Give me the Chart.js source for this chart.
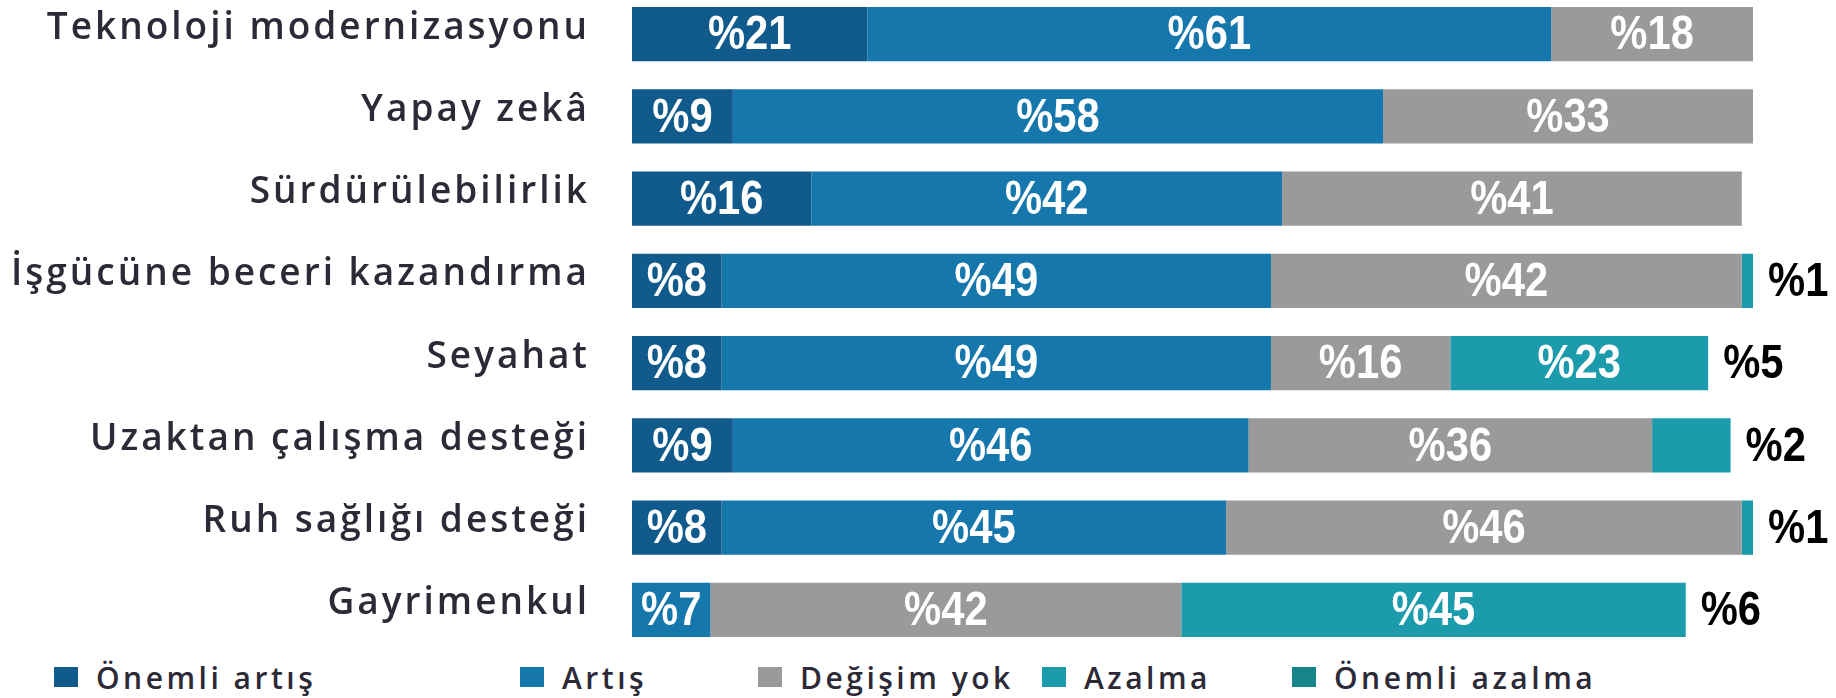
<!DOCTYPE html>
<html lang="tr">
<head>
<meta charset="utf-8">
<title>Yatırım beklentileri</title>
<script src="https://cdn.jsdelivr.net/npm/chart.js@4"></script>
<style>
    body { margin: 0; background: #fff; overflow: hidden; width: 1836px; height: 698px; }
    #kutu { position: absolute; left: 0; top: -7px; width: 1836px; height: 658px; }
    #lejant { position: absolute; left: 0; top: 660px; width: 1836px; height: 34px; }
    .oge { position: absolute; top: 0; display: flex; align-items: center; height: 34px;
           font-family: "Open Sans", sans-serif; font-weight: 600; font-size: 30px;
           letter-spacing: 3.5px; color: #2d2a38; white-space: nowrap; }
    .kare { width: 24px; height: 20px; margin-right: 18px; }
</style>
</head>
<body>
<div id="kutu"><canvas id="grafik"></canvas></div>
<div id="lejant"></div>

<script>
// Kategoriler
const kategoriler = [
    "Teknoloji modernizasyonu",
    "Yapay zekâ",
    "Sürdürülebilirlik",
    "İşgücüne beceri kazandırma",
    "Seyahat",
    "Uzaktan çalışma desteği",
    "Ruh sağlığı desteği",
    "Gayrimenkul"
];

// Seri değerleri (%)
const onemliArtis  = [21, 9, 16, 8, 8, 9, 8, 0];
const artis        = [61, 58, 42, 49, 49, 46, 45, 7];
const degisimYok   = [18, 33, 41, 42, 16, 36, 46, 42];
const azalma       = [0, 0, 0, 1, 23, 7, 1, 45];
const onemliAzalma = [0, 0, 0, 0, 5, 2, 0, 6];

const seriAdlari = ["Önemli artış", "Artış", "Değişim yok", "Azalma", "Önemli azalma"];
const renkler = ["#115a8c", "#1677ad", "#9a9a9b", "#1c9bac", "#16848b"];

// resimde etiketi olmayan dilim: [seri, satır]
const gizliEtiketler = [[3, 5]];

// lejant yerleşimi (px)
const lejantX = [54, 520, 758, 1042, 1292];

const degerler = [onemliArtis, artis, degisimYok, azalma, onemliAzalma];

const etiketPlugin = {
    id: "etiketler",
    beforeDraw(chart) {
        // eksen yazıları resimde geniş aralıklı
        chart.ctx.letterSpacing = "3px";
    },
    beforeDatasetsDraw(chart) {
        chart.ctx.letterSpacing = "0px";
    },
    afterDatasetsDraw(chart) {
        const ctx = chart.ctx;
        ctx.save();
        ctx.letterSpacing = "0px";
        ctx.font = 'bold 48px "Liberation Sans", Arial, sans-serif';
        ctx.textBaseline = "middle";
        chart.data.datasets.forEach((ds, i) => {
            const meta = chart.getDatasetMeta(i);
            meta.data.forEach((bar, j) => {
                const v = ds.data[j];
                if (!v) return;
                if (gizliEtiketler.some(g => g[0] === i && g[1] === j)) return;
                const yazi = "%" + v;
                let x;
                ctx.save();
                if (i === 4 || v < 3) {
                    // dar dilimler çubuğun dışında
                    ctx.fillStyle = "#000";
                    ctx.textAlign = "left";
                    x = (i === 4 ? bar.base : bar.x) + 15;
                } else {
                    ctx.fillStyle = "#fff";
                    ctx.textAlign = "center";
                    x = (bar.base + bar.x) / 2;
                }
                // dar (narrow) yazı görünümü
                ctx.translate(x, bar.y + 2);
                ctx.scale(0.87, 1);
                ctx.fillText(yazi, 0, 0);
                ctx.restore();
            });
        });
        ctx.restore();
    }
};

const grafikVerisi = {
    labels: kategoriler,
    datasets: seriAdlari.map((ad, i) => ({
        label: ad,
        data: degerler[i],
        // önemli azalma dilimi resimde görünmüyor, sadece etiketi var
        backgroundColor: i === 4 ? "rgba(0,0,0,0)" : renkler[i],
        borderWidth: 0,
        categoryPercentage: 1,
        barPercentage: 0.66
    }))
};

const ctx = document.getElementById("grafik").getContext("2d");
new Chart(ctx, {
    type: "bar",
    data: grafikVerisi,
    plugins: [etiketPlugin],
    options: {
        indexAxis: "y",
        responsive: true,
        maintainAspectRatio: false,
        animation: false,
        layout: { padding: { left: 0, right: 83, top: 0, bottom: 0 } },
        plugins: {
            legend: { display: false },
            tooltip: { enabled: false }
        },
        scales: {
            x: {
                stacked: true,
                min: 0,
                max: 100,
                display: false
            },
            y: {
                stacked: true,
                border: { display: false },
                grid: { display: false, drawTicks: false },
                afterFit(scale) {
                    scale.width = 632;
                    scale.paddingTop = 0;
                    scale.paddingBottom = 0;
                },
                ticks: {
                    padding: 42,
                    labelOffset: -6,
                    color: "#2d2a38",
                    font: { family: "'Open Sans', sans-serif", size: 37, weight: 600 }
                }
            }
        }
    }
});

// Lejant
const lejant = document.getElementById("lejant");
seriAdlari.forEach((ad, i) => {
    const oge = document.createElement("div");
    oge.className = "oge";
    oge.style.left = lejantX[i] + "px";
    oge.innerHTML = '<span class="kare" style="background:' + renkler[i] + '"></span>' + ad;
    lejant.appendChild(oge);
});
</script>
</body>
</html>
